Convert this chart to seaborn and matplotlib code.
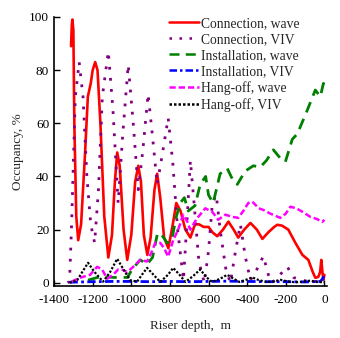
import matplotlib
matplotlib.use("Agg")
import matplotlib.pyplot as plt
import seaborn as sns
import pandas as pd

sns.set_theme(style="ticks")
plt.rcParams['font.family'] = ['Liberation Serif', 'DejaVu Serif']

conn_wave_x = [-1312, -1308, -1305, -1300, -1295, -1285, -1275, -1260, -1240, -1225, -1210, -1200, -1187, -1175, -1160,
               -1140, -1119, -1100, -1085, -1073, -1060, -1040, -1021, -1000, -980, -964, -950, -935, -917, -900, -880,
               -866, -850, -830, -808, -785, -767, -745, -720, -694, -670, -650, -625, -600, -580, -555, -525, -497,
               -470, -446, -415, -383, -350, -321, -290, -260, -244, -220, -187, -150, -114, -83, -60, -47, -38, -31,
               -22, -16, -10, -5, 0]
conn_wave_y = [89, 97, 99, 95, 60, 25, 16, 22, 48, 70, 75, 80, 83, 80, 60,
               25, 9.5, 18, 38, 49, 44, 20, 8.6, 18, 38, 44, 38, 18, 10.5, 17, 35,
               41, 32, 17, 13, 22, 30, 27, 20, 17, 22, 22, 21, 21, 19, 17.5, 20, 23,
               20, 17, 20, 22.5, 20, 16.5, 19, 21, 21.8, 21.5, 20, 15, 10.5, 8.6, 4, 1.9, 2, 2.3,
               4, 8.6, 4, 1.1, 3]

conn_viv_x = [-1330, -1320, -1310, -1290, -1270, -1250, -1230, -1210, -1190, -1170, -1150, -1119, -1095, -1068, -1045,
              -1016, -990, -964, -940, -913, -890, -866, -840, -809, -785, -760, -730, -710, -694, -675, -650, -622,
              -600, -580, -560, -540, -510, -487, -460, -435, -410, -383, -350, -316, -290, -270, -230, -192, -160,
              -120, -80, -40, 0]
conn_viv_y = [0, 0.5, 20, 70, 83, 70, 40, 22, 15, 35, 70, 87, 65, 30, 55,
              82, 60, 35, 50, 71, 55, 37, 48, 62, 45, 20, 1, 25, 46, 30, 8, 0,
              12, 30, 33, 20, 5, 0, 12, 22, 10, 1, 5, 10, 3, 0, 3, 6, 2,
              1, 0.5, 0.5, 0.5]

inst_wave_x = [-1224, -1160, -1090, -1020, -996, -954, -918, -890, -866, -850, -814, -790, -770, -747, -725, -705,
               -670, -643, -615, -600, -576, -540, -503, -470, -451, -410, -368, -332, -300, -264, -230, -202, -166,
               -140, -88, -47, -21, -5, 0]
inst_wave_y = [1, 2.3, 2, 2, 5, 8.6, 7, 9.5, 18, 18.8, 15, 16, 24, 30, 32, 27,
               29, 37, 40, 33, 30, 41, 43, 38, 37, 42, 44, 43.5, 46, 50, 47, 45.5, 54,
               56, 65, 72.5, 70, 75, 74]

inst_viv_x = [-1320, -1200, -1100, -1000, -900, -800, -700, -600, -500, -400, -300, -200, -100, -20, -5, 0]
inst_viv_y = [0.2, 0.4, 0.5, 0.5, 0.4, 0.5, 0.4, 0.5, 0.6, 0.5, 0.4, 0.4, 0.3, 0.5, 2, 3]

hang_wave_x = [-1310, -1265, -1213, -1177, -1151, -1125, -1094, -1068, -1047, -1021, -990, -954, -918, -892, -876,
               -850, -830, -809, -783, -757, -731, -710, -695, -670, -653, -617, -581, -550, -513, -477, -446, -420,
               -394, -373, -340, -316, -280, -228, -200, -176, -145, -114, -73, -40, -10, 0]
hang_wave_y = [0.4, 1.9, 3, 6, 5, 1.5, 3, 5, 4.9, 4, 6, 8.6, 8, 12, 15,
               15, 13, 9.8, 16, 20, 25.6, 23, 20, 23, 24.8, 28, 26.7, 23.7, 25.6, 24.8, 24.4, 27,
               30, 30.5, 28, 27.4, 26, 24.4, 26, 28.6, 28, 26.7, 24.8, 24, 22.9, 23.7]

hang_viv_x = [-1320, -1280, -1250, -1224, -1190, -1146, -1110, -1073, -1040, -1006, -970, -945, -918, -885, -850,
              -810, -783, -750, -720, -680, -643, -610, -581, -540, -503, -470, -440, -410, -373, -340, -300, -260,
              -228, -190, -150, -110, -73, -40, 0]
hang_viv_y = [0, 1, 4.5, 7.5, 4, 0.4, 4, 9, 5, 1, 0.4, 3, 5.6, 3, 0.3,
              3, 5.6, 3, 0.3, 2.5, 5, 2, 0.3, 1.5, 3, 1.5, 0.3, 1, 2, 1, 0.3, 0.5,
              1.1, 0.5, 0.2, 0.4, 0.8, 0.3, 0.2]

x_ticks = [-1400, -1200, -1000, -800, -600, -400, -200, 0]
y_ticks = [0, 20, 40, 60, 80, 100]

series = [
    ("Connection, wave", conn_wave_x, conn_wave_y, "#ff0000", 1.9, None),
    ("Connection, VIV", conn_viv_x, conn_viv_y, "#800080", 2.0, (1.0, 3.0)),
    ("Installation, wave", inst_wave_x, inst_wave_y, "#008000", 2.0, (4.0, 2.5)),
    ("Installation, VIV", inst_viv_x, inst_viv_y, "#0000ff", 2.0, (3.0, 1.2, 1.0, 1.2)),
    ("Hang-off, wave", hang_wave_x, hang_wave_y, "#ff00ff", 1.8, (2.5, 1.2)),
    ("Hang-off, VIV", hang_viv_x, hang_viv_y, "#000000", 1.6, (1.0, 0.8)),
]

fig = plt.figure(figsize=(3.4, 3.38), dpi=100)
ax = fig.add_axes([0.159, 0.154, 0.803, 0.796])

for label, xs, ys, color, lw, dash in series:
    df = pd.DataFrame({"x": xs, "y": ys})
    sns.lineplot(data=df, x="x", y="y", ax=ax, color=color, lw=lw, label=label,
                 estimator=None, sort=False)
    line = ax.lines[-1]
    if dash is not None:
        line.set_dashes(dash)

ax.set_xlim(-1400, 14)
ax.set_ylim(-1.2, 100)
ax.set_xticks(x_ticks)
ax.set_yticks(y_ticks)
ax.set_xticklabels([str(t) for t in x_ticks])
ax.set_yticklabels([str(t) for t in y_ticks])
ax.tick_params(direction="in", length=4, width=1, labelsize=9.5, colors="black")
ax.tick_params(axis="x", pad=6)
for s in ["top", "right"]:
    ax.spines[s].set_visible(False)
for s in ["left", "bottom"]:
    ax.spines[s].set_linewidth(1.2)
    ax.spines[s].set_color("black")
ax.set_xlabel("Riser depth,  m", fontsize=9.5, labelpad=10)
ax.set_ylabel("Occupancy, %", fontsize=9.5, labelpad=4)

leg = ax.legend(loc="upper right", bbox_to_anchor=(0.93, 1.03), frameon=False, fontsize=9.8,
                handlelength=2.2, handletextpad=0.2, labelspacing=0.22, borderaxespad=0.2)
for h in leg.get_lines():
    h.set_linewidth(1.8)

fig.savefig("out.png", dpi=100, facecolor="white")
